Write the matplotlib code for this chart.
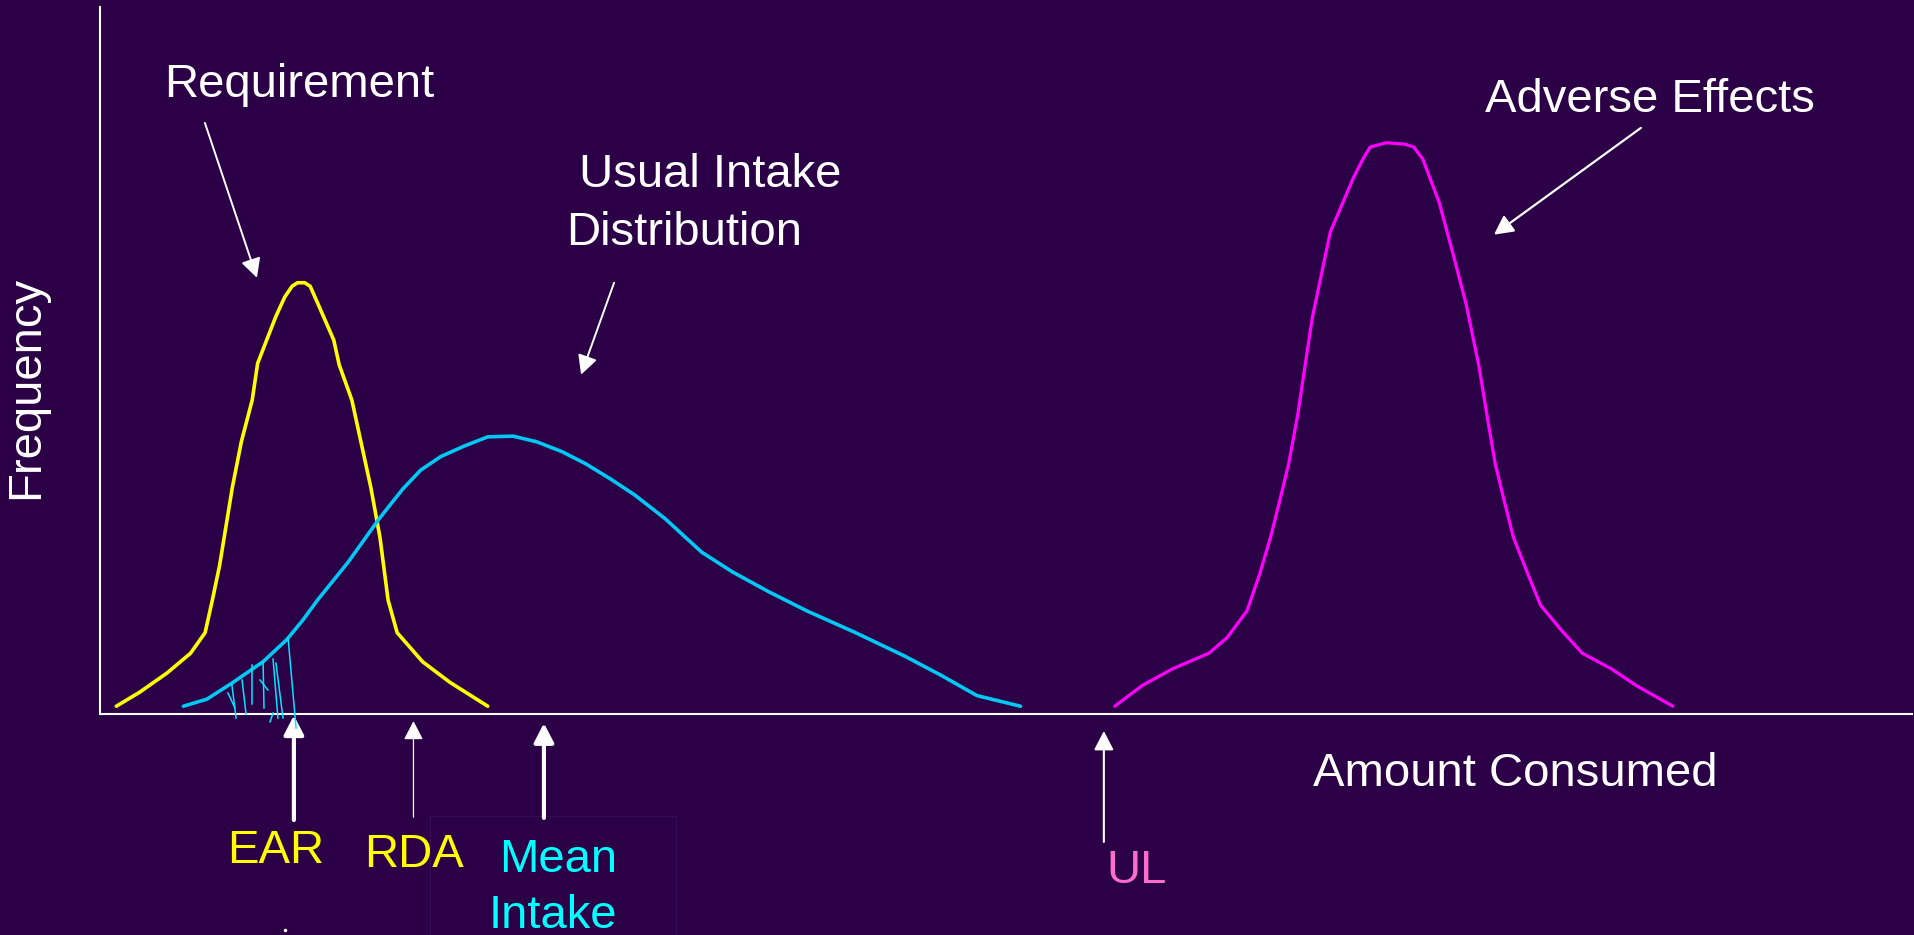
import matplotlib.pyplot as plt
from matplotlib.patches import Rectangle

plt.rcParams['font.family'] = ['Liberation Sans', 'DejaVu Sans']

# --- data (arbitrary units: amount 0-100, frequency 0-100) ---
req_x = [0.9, 2.2, 3.7, 5.0, 5.8, 6.2, 6.6, 6.95, 7.3, 7.8, 8.4, 8.7, 9.2, 9.7, 10.2, 10.6, 10.9,
         11.3, 11.6, 12.1, 12.9, 13.2, 13.9, 14.4, 14.95, 15.45, 15.9, 16.4, 17.8, 19.3, 21.4]
req_y = [1.1, 3.1, 5.8, 8.6, 11.5, 16.1, 21.0, 26.5, 32.0, 38.5, 44.4, 49.6, 52.9, 56.2, 59.0, 60.5, 61.0,
         61.0, 60.5, 57.6, 52.9, 49.4, 44.4, 38.5, 32.0, 25.0, 16.1, 11.5, 7.4, 4.5, 1.1]

intake_x = [4.6, 5.9, 7.3, 9.0, 10.3, 11.2, 12.0, 13.7, 15.4, 16.7, 17.7, 18.8, 20.1, 21.4, 22.8,
            24.1, 25.5, 26.8, 28.2, 29.5, 31.2, 33.2, 34.9, 36.9, 39.0, 41.7, 44.4, 46.4, 48.4, 50.8]
intake_y = [1.1, 2.1, 4.4, 7.4, 10.5, 13.3, 16.1, 21.5, 27.6, 31.8, 34.5, 36.4, 37.9, 39.2, 39.3,
            38.5, 37.1, 35.4, 33.2, 31.0, 27.6, 22.9, 20.1, 17.3, 14.6, 11.5, 8.2, 5.5, 2.6, 1.1]

adverse_x = [56.0, 57.5, 59.2, 61.2, 62.2, 63.3, 64.0, 64.6, 65.1, 65.6, 66.1, 66.5, 66.9, 67.4,
             67.9, 68.6, 69.2, 69.7, 70.1, 71.0, 72.0, 72.5, 73.0, 73.9, 74.7, 75.4, 76.1, 76.6,
             77.0, 77.5, 78.0, 78.8, 79.5, 80.6, 81.8, 83.4, 84.8, 86.8]
adverse_y = [1.1, 4.0, 6.4, 8.6, 10.8, 14.6, 19.8, 25.0, 30.1, 35.4, 42.3, 49.2, 56.0, 62.1,
             68.2, 72.4, 76.0, 78.5, 80.2, 80.8, 80.6, 80.2, 78.5, 72.4, 64.8, 57.9, 49.2, 41.4,
             35.4, 30.1, 25.0, 19.8, 15.4, 12.0, 8.6, 6.4, 4.0, 1.1]

# hand-drawn shading strokes under the intake curve, below the EAR
shade_segments = [((7.06, 2.97), (7.45, 0.85)), ((7.28, 4.10), (7.51, -0.57)),
                  ((7.84, 4.81), (8.06, 0.0)), ((8.39, 6.93), (8.39, 1.41)),
                  ((8.83, 4.81), (9.27, 3.39)), ((9.00, 7.36), (9.05, 0.85)),
                  ((9.38, -1.13), (9.55, 0.14)), ((9.55, 7.78), (9.82, -0.57)),
                  ((9.71, 7.21), (10.10, -0.57)), ((10.38, 10.75), (10.82, -1.98))]

ref_names = ['EAR', 'RDA', 'Mean\nIntake', 'UL']
ref_values = [10.7, 17.3, 24.5, 55.4]

BG = '#2c0046'
YELLOW = '#ffff00'
CYAN = '#00c8f5'
MAGENTA = '#ff00ff'

fig = plt.figure(figsize=(19.15, 9.35), dpi=100, facecolor=BG)
ax = fig.add_axes([100 / 1915, 221 / 935, 1812 / 1915, 707 / 935])
ax.set_facecolor(BG)
ax.set_xlim(0, 100)
ax.set_ylim(0, 100)
ax.set_xticks([])
ax.set_yticks([])
for s in ['top', 'right']:
    ax.spines[s].set_visible(False)
for s in ['left', 'bottom']:
    ax.spines[s].set_color('white')
    ax.spines[s].set_linewidth(1.5)

line_kw = dict(solid_capstyle='round', solid_joinstyle='round')
ax.plot(req_x, req_y, color=YELLOW, lw=2.6, zorder=3, **line_kw)
ax.plot(intake_x, intake_y, color=CYAN, lw=2.6, zorder=4, **line_kw)
ax.plot(adverse_x, adverse_y, color=MAGENTA, lw=2.3, zorder=3, **line_kw)

fs = 34
txt = dict(color='white', fontsize=fs, va='baseline')

def arrow(start, tip, lw):
    ax.annotate('', xy=tip, xytext=start, annotation_clip=False,
                arrowprops=dict(arrowstyle='-|>,head_length=0.58,head_width=0.3',
                                color='white', lw=lw, shrinkA=0, shrinkB=0,
                                mutation_scale=20))

# curve labels
ax.text(10.98, 87.3, 'Requirement', ha='center', **txt)
arrow((5.79, 83.6), (8.66, 61.7), 1.4)
ax.text(25.72, 74.5, ' Usual Intake', ha='left', **txt)
ax.text(25.72, 66.3, 'Distribution', ha='left', **txt)
arrow((28.37, 61.0), (26.55, 48.0), 1.4)
ax.text(85.54, 85.15, 'Adverse Effects', ha='center', **txt)
arrow((85.04, 82.9), (76.93, 67.8), 1.6)

# axis titles
ax.text(78.09, -10.2, 'Amount Consumed', ha='center', clip_on=False, **txt)
ax.text(-3.42, 46.25, 'Frequency', rotation=90, rotation_mode='anchor',
        ha='center', clip_on=False, **txt)

# reference values under the axis
ax.add_patch(Rectangle((18.2, -32.0), 13.6, 17.6, fill=False, edgecolor='#3a0c58',
                       lw=0.8, clip_on=False))
ref_colors = [YELLOW, YELLOW, '#00ffff', '#ff6ccf']
ref_lw = [3.0, 0.9, 3.0, 1.5]
ref_base = [-15.0, -14.6, -14.7, -18.1]
ref_tip = [-0.2, -1.0, -1.3, -2.4]
ref_text_y = [-21.1, -21.6, -22.35, -23.9]
ref_text_x = [9.71, 17.33, 25.3, 57.23]
for name, v, c, lw, b, t, tx, ty in zip(ref_names, ref_values, ref_colors, ref_lw,
                                        ref_base, ref_tip, ref_text_x, ref_text_y):
    arrow((v, b), (v, t), lw)
    if '\n' in name:
        first, second = name.split('\n')
        ax.text(tx, ty, first, color=c, fontsize=fs, ha='center', va='baseline', clip_on=False)
        ax.text(tx - 0.3, ty - 7.9, second, color=c, fontsize=fs, ha='center', va='baseline',
                clip_on=False)
    else:
        ax.text(tx, ty, name, color=c, fontsize=fs, ha='center', va='baseline', clip_on=False)

for (x0, y0), (x1, y1) in shade_segments:
    ax.plot([x0, x1], [y0, y1], color='#00e6ff', lw=1.1, clip_on=False, zorder=6)

ax.plot([10.2], [-30.55], 'o', color='white', ms=1.5, clip_on=False)

fig.savefig('out.png', dpi=100, facecolor=BG)
